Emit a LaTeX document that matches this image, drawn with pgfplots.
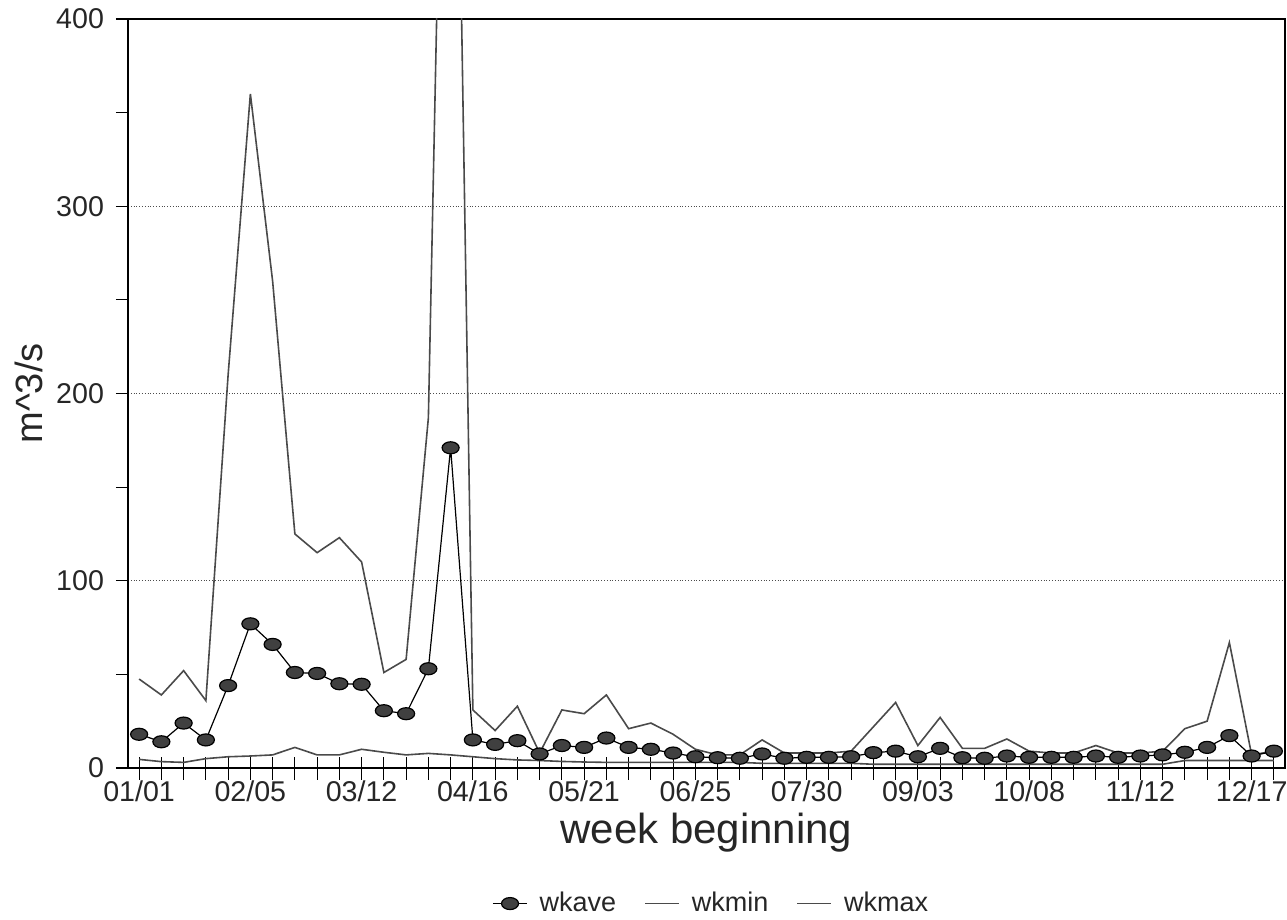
\documentclass[border=0pt]{standalone}
\usepackage{fontspec}
\setmainfont{Liberation Sans}
\usepackage{pgfplots}
\usepackage{pgfplotstable}
\pgfplotsset{compat=1.18}

% weekly flow, m^3/s
\pgfplotstableread{
wk ave min max
0 18 4.6 47.5
1 14 3.4 39
2 24 3 52
3 15 5 36
4 44 6 210
5 77 6.4 360
6 66 7 260
7 51 11 125
8 50.5 7 115
9 45 7 123
10 44.7 10 110
11 30.6 8.4 51
12 29 7 58
13 53 7.8 187
14 171 7 760
15 15 6 31
16 12.6 5 20
17 14.6 4.3 33
18 7.5 4 8
19 12 3.5 31
20 11 3.2 29
21 16 3 39
22 11 3 21
23 10 3 24
24 8 3 18
25 6 3 10
26 5.5 3 7
27 5.2 3 7
28 7.5 2.5 15
29 5.2 2.5 8
30 5.7 2.5 8
31 5.7 2.5 8
32 6 2.5 9
33 8.2 2 22
34 9 2 35
35 6 2 12
36 10.5 2 27
37 5.5 2 10.5
38 5.2 2 10.5
39 6.4 2 15.5
40 5.7 2 9
41 5.7 2 8
42 5.7 2 8
43 6.4 2 12
44 5.7 2 8
45 6.4 2 8
46 7 2 9
47 8.4 4 21
48 11 4 25
49 17.3 4 67
50 6.4 4 7
51 9 4 9
}\flowdata

\definecolor{lngray}{HTML}{4A4A4A}

\begin{document}
\begin{tikzpicture}
\begin{axis}[
  width=578.5pt, height=374.5pt, scale only axis,
  xmin=-0.5, xmax=51.5, ymin=0, ymax=400,
  xtick={0,5,...,50},
  xticklabels={01/01,02/05,03/12,04/16,05/21,06/25,07/30,09/03,10/08,11/12,12/17},
  minor xtick={0,...,51},
  ytick={0,100,...,400},
  extra y ticks={50,150,250,350}, extra y tick labels={},
  extra y tick style={grid=none, tick align=outside},
  xtick align=center, ytick align=outside,
  xtick pos=bottom, ytick pos=left,
  major tick length=6pt, minor tick length=11.5pt,
  every tick/.style={black, line width=0.6pt},
  axis line style={black, line width=0.75pt},
  ymajorgrids, grid style={densely dotted, black!70, line width=0.6pt},
  /pgf/number format/assume math mode=true,
  tick label style={font=\fontsize{14.3}{17}\selectfont, text=black!85},
  yticklabel style={xshift=-2.5pt},
  xlabel={week beginning},
  ylabel={m\textasciicircum 3/s},
  xlabel style={at={(axis description cs:0.5,-0.0868)}, anchor=center, font=\fontsize{21}{24}\selectfont, text=black!85},
  ylabel style={at={(axis description cs:-0.0855,0.5)}, anchor=center, font=\fontsize{19}{22}\selectfont, text=black!85},
  legend style={at={(axis description cs:0.505,-0.181)}, anchor=center, draw=none, fill=none,
    font=\fontsize{13.5}{16}\selectfont, text=black!85,
    /tikz/every odd column/.append style={column sep=4pt},
    /tikz/every even column/.append style={column sep=12pt}},
  legend columns=-1,
  reverse legend,
]
\addplot[lngray, line width=0.8pt] table[x=wk, y=max]{\flowdata};
\addlegendentry{wkmax}
\addplot[lngray, line width=0.8pt] table[x=wk, y=min]{\flowdata};
\addlegendentry{wkmin}
\addplot[black, line width=0.6pt, mark=*, mark size=3pt,
  mark options={xscale=1.42, fill=black!75, draw=black, solid}] table[x=wk, y=ave]{\flowdata};
\addlegendentry{wkave}
\coordinate (bl) at (rel axis cs:0,0);
\coordinate (tr) at (rel axis cs:1,1);
\end{axis}
\pgfresetboundingbox
\path[use as bounding box] ([shift={(-64pt,-75.5pt)}]bl) rectangle ([shift={(1pt,9.5pt)}]tr);
\end{tikzpicture}
\end{document}
